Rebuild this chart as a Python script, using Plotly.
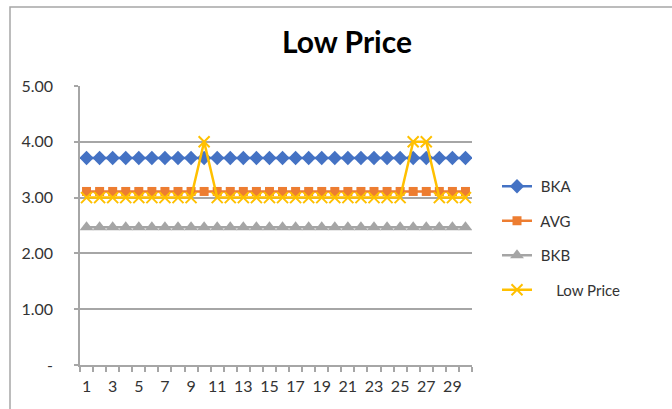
import plotly.graph_objects as go

days = list(range(1, 31))
bka = [3.71] * 30
avg = [3.11] * 30
bkb = [2.47] * 30
low_price = [3.0] * 9 + [4.0] + [3.0] * 15 + [4.0, 4.0] + [3.0] * 3

y_tick_vals = [0, 1, 2, 3, 4, 5]
y_tick_text = ["-", "1.00", "2.00", "3.00", "4.00", "5.00"]

FONT = "Lato"
TXT = "#333333"
W, H = 672, 409
L, R, T, B = 80, 200, 86, 44
PW, PH = W - L - R, H - T - B


def px_x(px):
    return (px - L) / PW


def px_y(py):
    return (H - B - py) / PH


series = [
    (" BKA", bka, "#4472C4", dict(symbol="diamond", size=11)),
    (" AVG", avg, "#ED7D31", dict(symbol="square", size=9)),
    (" BKB", bkb, "#A5A5A5", dict(symbol="triangle-up", size=12)),
    ("     Low Price", low_price, "#FFC000",
     dict(symbol="x-thin", size=11, line=dict(width=2, color="#FFC000"))),
]

fig = go.Figure()
for i, (name, vals, color, marker) in enumerate(series):
    fig.add_trace(go.Scatter(
        x=days, y=vals, name=name, mode="lines+markers",
        line=dict(color=color, width=2.5),
        marker=dict(color=color, **marker),
        legendgroup=f"g{i}",
    ))

fig.update_layout(
    width=W, height=H,
    margin=dict(l=L, r=R, t=T, b=B),
    paper_bgcolor="white", plot_bgcolor="white",
    font=dict(family=FONT, size=15, color=TXT),
    title=dict(text="<b>Low Price</b>", x=px_x(347), xref="paper",
               xanchor="center", y=1 - 42 / H, yanchor="middle",
               font=dict(family=FONT, size=30, color="#000000")),
    showlegend=True,
    legend=dict(x=px_x(497), y=px_y(238), yanchor="middle", xanchor="left",
                traceorder="grouped", tracegroupgap=12,
                font=dict(family=FONT, size=15, color=TXT),
                bgcolor="rgba(0,0,0,0)"),
    xaxis=dict(range=[0.5, 30.5], tick0=1, dtick=2, ticks="",
               showgrid=False, zeroline=False,
               showline=True, linecolor="#A6A6A6", linewidth=1.5,
               minor=dict(tick0=0.5, dtick=1, ticks="outside", ticklen=5,
                          tickcolor="#A6A6A6", tickwidth=1.5, showgrid=False),
               tickfont=dict(family=FONT, size=16, color=TXT),
               ticklabelstandoff=6),
    yaxis=dict(range=[0, 5], tickvals=y_tick_vals, ticktext=y_tick_text,
               ticks="outside", ticklen=4, tickcolor="#A6A6A6", tickwidth=1.5,
               showgrid=True, gridcolor="#A6A6A6", gridwidth=1.5,
               zeroline=False, showline=True, linecolor="#A6A6A6",
               linewidth=1.5,
               tickfont=dict(family=FONT, size=16, color=TXT),
               ticklabelstandoff=18),
)

# chart-area frame: left and top edges
fig.add_shape(type="path", xref="paper", yref="paper",
              path=f"M {px_x(10)} {px_y(420)} L {px_x(10)} {px_y(7)} L {px_x(690)} {px_y(7)}",
              line=dict(color="#A6A6A6", width=1.5))

fig.write_html("out.html")
